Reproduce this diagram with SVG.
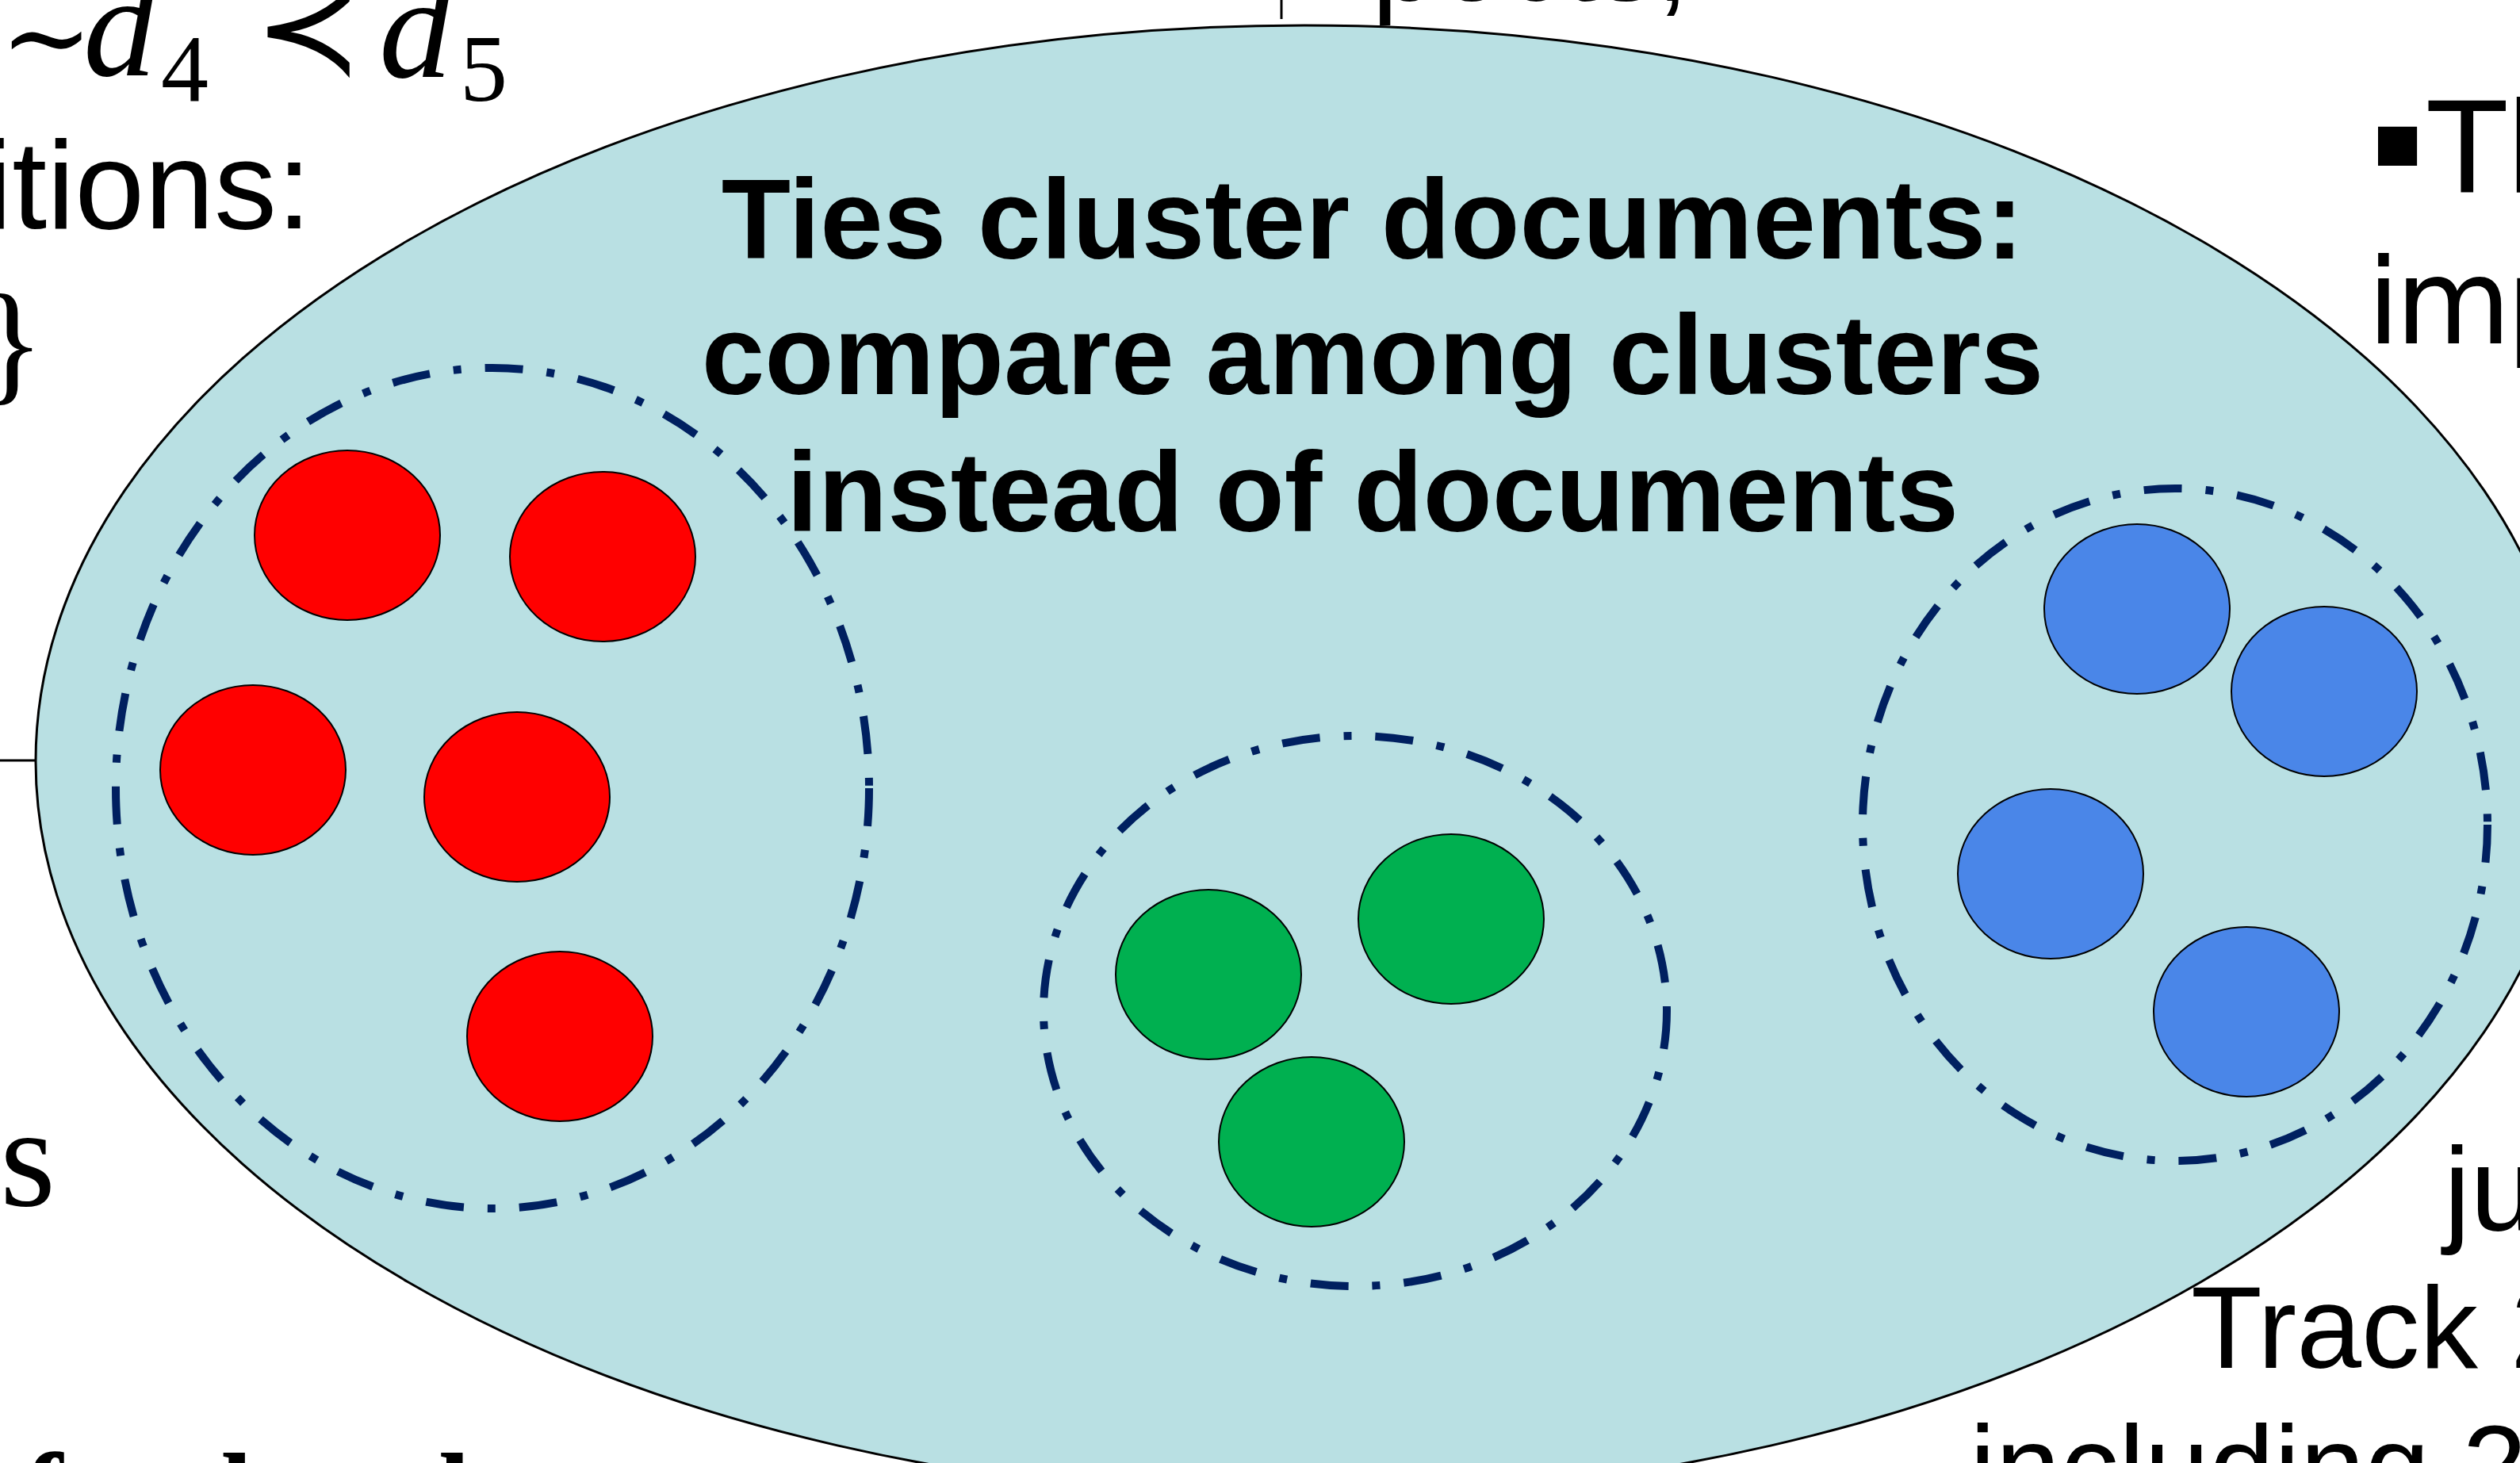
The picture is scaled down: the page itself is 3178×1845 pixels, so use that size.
<svg xmlns="http://www.w3.org/2000/svg" width="3178" height="1845" viewBox="0 0 3178 1845">
<style>
.bg{fill:#B9E0E3;stroke:#000;stroke-width:3}
.cl{fill:none;stroke:#002060;stroke-width:10;stroke-dasharray:48 30 10 30}
.doc{stroke:#000;stroke-width:2}
.r{fill:#FF0000}.g{fill:#00B050}.b{fill:#4A86E8}
.t{font-family:"Liberation Sans",Arial,sans-serif;fill:#000}
.title{font-family:"Liberation Sans",Arial,sans-serif;font-weight:bold;font-size:143px;text-anchor:middle;fill:#000}
.serif{font-family:"Liberation Serif","Times New Roman",serif;fill:#000}
.dv{font-family:"DejaVu Sans",Verdana,sans-serif;fill:#000}
.ln{stroke:#000;fill:none}
</style>
<rect width="3178" height="1845" fill="#fff"/>
<g id="background-text">
<text class="serif" font-size="185" font-style="italic" y="97"><tspan x="0" font-style="normal" font-family="DejaVu Serif,serif" font-size="140" y="95">∼</tspan><tspan x="105">d</tspan><tspan x="203" y="127" font-style="normal" font-size="120">4</tspan><tspan x="320" y="92" font-style="normal" font-family="DejaVu Sans,sans-serif" font-size="165">≺</tspan><tspan x="478" y="97">d</tspan><tspan x="580" y="127" font-style="normal" font-size="120">5</tspan></text>
<text class="t" font-size="158" x="393" y="288" text-anchor="end">itions:</text>
<text class="serif" font-size="170" x="-26" y="488">}</text>
<text class="serif" font-size="180" x="0" y="1520">s</text>
<text class="serif" font-size="145" font-weight="bold" x="31" y="1932">forehand</text>
<text class="t" font-size="150" x="1730" y="1">pects,</text>
<text class="dv" font-size="158" y="243"><tspan x="2990" y="210" font-size="99">▪</tspan><tspan x="3063" y="243">Th</tspan></text>
<text class="dv" font-size="150" x="2985" y="433" letter-spacing="-6">imp</text>
<text class="t" font-size="150" x="3082" y="1552">ju</text>
<text class="t" font-size="147" x="2763" y="1725">Track 2</text>
<text class="t" font-size="147" x="2484" y="1900">including 2</text>
<line class="ln" x1="0" y1="959" x2="45" y2="959" stroke-width="3"/>
<line class="ln" x1="1616" y1="0" x2="1616" y2="24" stroke-width="3"/>
</g>
<g id="ties-region">
<ellipse class="bg" cx="1645" cy="960" rx="1600" ry="928"/>
<text class="title" x="1731" y="326">Ties cluster documents:</text>
<text class="title" x="1731" y="497">compare among clusters</text>
<text class="title" x="1731" y="670">instead of documents</text>
</g>
<g id="connectors"></g>
<g id="cluster-red">
<ellipse class="cl" cx="621" cy="994" rx="475" ry="530"/>
<ellipse class="doc r" cx="438" cy="675" rx="117" ry="107"/>
<ellipse class="doc r" cx="760" cy="702" rx="117" ry="107"/>
<ellipse class="doc r" cx="319" cy="971" rx="117" ry="107"/>
<ellipse class="doc r" cx="652" cy="1005" rx="117" ry="107"/>
<ellipse class="doc r" cx="706" cy="1307" rx="117" ry="107"/>
</g>
<g id="cluster-green">
<ellipse class="cl" cx="1709" cy="1275" rx="393" ry="347"/>
<ellipse class="doc g" cx="1524" cy="1229" rx="117" ry="107"/>
<ellipse class="doc g" cx="1830" cy="1159" rx="117" ry="107"/>
<ellipse class="doc g" cx="1654" cy="1440" rx="117" ry="107"/>
</g>
<g id="cluster-blue">
<ellipse class="cl" cx="2743" cy="1040" rx="394" ry="424"/>
<ellipse class="doc b" cx="2695" cy="768" rx="117" ry="107"/>
<ellipse class="doc b" cx="2931" cy="872" rx="117" ry="107"/>
<ellipse class="doc b" cx="2586" cy="1102" rx="117" ry="107"/>
<ellipse class="doc b" cx="2833" cy="1276" rx="117" ry="107"/>
</g>
</svg>
